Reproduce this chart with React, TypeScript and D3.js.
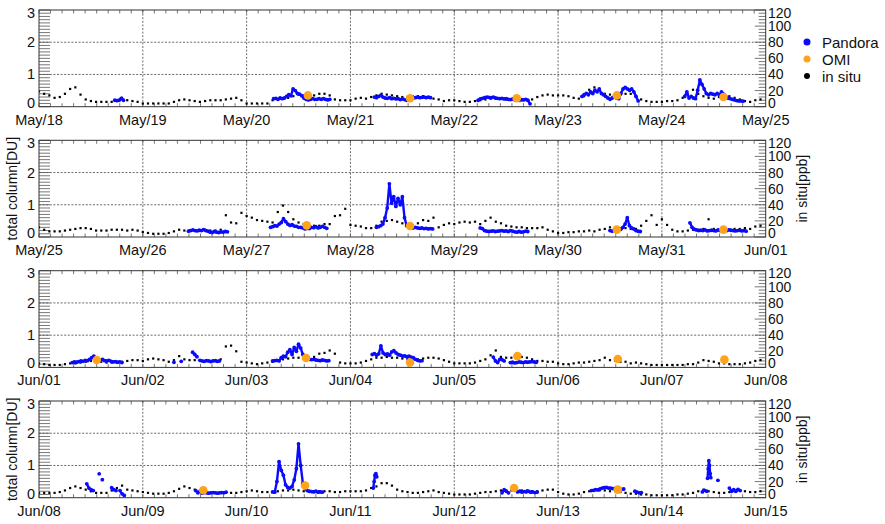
import * as d3 from "d3";

// time is counted in days from May/18 00:00
const baseTime = Date.UTC(2016, 4, 18);
const panelStartDays = [0, 7, 14, 21];
const daysPerPanel = 7;

// in situ NO2 [ppb], 20 samples per day
const inSituPerDay = 20;
const inSituWeek1 = [
  19, 16, 14, 11, 12, 16, 22, 24, 15, 9, 7, 6, 6, 6, 6, 7, 11, 8, 7, 6,
  4, 4, 4, 4, 4, 4, 6, 8, 9, 8, 7, 6, 7, 8, 8, 8, 9, 10, 11, 8,
  4, 4, 4, 4, 4, 8, 9, 10, 11, 13, 15, 14, 13, 14, 16, 16, 14, 9, 8, 8,
  8, 10, 11, 10, 12, 14, 16, 15, 14, 13, 12, 12, 13, 13, 13, 12, 10, 9, 7, 8,
  8, 7, 6, 6, 7, 8, 9, 10, 10, 10, 9, 9, 8, 8, 8, 9, 12, 14, 15, 14,
  14, 14, 13, 11, 10, 13, 21, 24, 20, 16, 15, 13, 15, 16, 16, 13, 9, 7, 6, 6,
  6, 7, 7, 8, 11, 15, 21, 16, 13, 11, 10, 12, 15, 13, 11, 9, 7, 6, 8, 9,
];
const inSituWeek2 = [
  12, 9, 7, 7, 7, 8, 9, 10, 11, 11, 10, 8, 8, 8, 9, 9, 9, 8, 9, 8,
  6, 5, 4, 4, 4, 5, 7, 9, 8, 8, 8, 8, 9, 8, 8, 9, 27, 18, 17, 30,
  26, 24, 21, 20, 19, 18, 31, 39, 31, 22, 18, 16, 15, 14, 14, 16, 16, 26, 27, 35,
  15, 14, 13, 11, 11, 14, 19, 20, 21, 19, 17, 15, 14, 17, 21, 20, 24, 12, 15, 17,
  16, 18, 19, 18, 19, 16, 20, 24, 19, 17, 14, 13, 12, 12, 11, 11, 11, 12, 9, 7,
  5, 5, 6, 6, 7, 7, 8, 7, 9, 10, 12, 12, 11, 11, 10, 10, 14, 20, 27, 15,
  22, 15, 9, 7, 7, 8, 9, 9, 10, 22, 10, 9, 9, 9, 10, 10, 11, 10, 13, 14,
];
const inSituWeek3 = [
  5, 4, 3, 3, 3, 4, 5, 5, 6, 7, 8, 8, 7, 6, 6, 6, 7, 8, 9, 9,
  8, 10, 11, 10, 9, 7, 9, 14, 10, 9, 9, 9, 8, 8, 9, 10, 26, 27, 20, 7,
  6, 5, 4, 5, 6, 7, 9, 10, 11, 12, 12, 12, 12, 13, 17, 18, 21, 17, 6, 5,
  5, 5, 6, 8, 10, 12, 12, 13, 12, 12, 11, 10, 10, 10, 11, 12, 12, 11, 9, 7,
  5, 5, 5, 5, 6, 8, 10, 15, 21, 13, 12, 12, 12, 13, 12, 10, 8, 8, 7, 7,
  5, 4, 4, 5, 6, 6, 7, 8, 9, 12, 9, 8, 7, 7, 5, 6, 5, 4, 3, 3,
  3, 3, 3, 3, 3, 4, 4, 6, 9, 8, 7, 5, 5, 4, 4, 4, 5, 6, 8, 9,
];
const inSituWeek4 = [
  6, 6, 6, 6, 7, 9, 12, 14, 12, 10, 8, 6, 6, 6, 9, 12, 15, 10, 9, 8,
  7, 6, 5, 5, 5, 6, 8, 11, 14, 12, 10, 8, 7, 6, 6, 6, 6, 6, 6, 7,
  8, 9, 8, 7, 7, 7, 8, 9, 9, 10, 9, 8, 8, 8, 8, 8, 8, 7, 7, 8,
  8, 8, 8, 9, 12, 14, 18, 18, 15, 10, 8, 7, 6, 6, 7, 8, 9, 7, 6, 5,
  4, 4, 4, 4, 5, 6, 7, 7, 8, 9, 9, 9, 9, 9, 9, 8, 8, 9, 10, 10,
  7, 5, 4, 4, 5, 7, 8, 9, 9, 9, 8, 8, 7, 6, 5, 5, 4, 4, 3, 3,
  3, 3, 3, 4, 4, 5, 6, 8, 10, 8, 7, 6, 6, 7, 8, 9, 8, 7, 7, 8,
];
const inSituWeeks = [inSituWeek1, inSituWeek2, inSituWeek3, inSituWeek4];

// Pandora total column [DU]: start day, sampling step [h], values
const pandoraSegments = [
  { start: 0.73, step: 0.5, values: [0.2, 0.19, 0.2, 0.26, 0.2] },
  { start: 2.26, step: 0.5, values: [0.25, 0.26, 0.23, 0.27, 0.25, 0.27, 0.32, 0.37, 0.34, 0.55, 0.5, 0.41, 0.39, 0.34, 0.27, 0.23, 0.21, 0.23, 0.25, 0.23, 0.23, 0.25, 0.23, 0.25, 0.23, 0.21, 0.23] },
  { start: 3.23, step: 0.5, values: [0.3, 0.28, 0.32, 0.35, 0.3, 0.27, 0.26, 0.28, 0.25, 0.26, 0.24, 0.25, 0.22, 0.24, 0.22, 0.2, 0.22, 0.25, 0.27, 0.28, 0.3, 0.28, 0.29, 0.3, 0.28, 0.3, 0.28] },
  { start: 4.23, step: 0.5, values: [0.2, 0.24, 0.26, 0.28, 0.3, 0.29, 0.28, 0.3, 0.27, 0.26, 0.25, 0.26, 0.24, 0.25, 0.23, 0.22, 0.24, 0.21, 0.22, 0.2, 0.22, 0.21, 0.23, 0.2, 0.09] },
  { start: 5.23, step: 0.5, values: [0.32, 0.37, 0.41, 0.37, 0.46, 0.41, 0.51, 0.46, 0.55, 0.41, 0.37, 0.32, 0.27, 0.23, 0.27, 0.32, 0.27, 0.25, 0.41, 0.55, 0.6, 0.55, 0.51, 0.55, 0.46, 0.32, 0.18] },
  { start: 6.22, step: 0.5, values: [0.32, 0.46, 0.27, 0.32, 0.27, 0.25, 0.51, 0.83, 0.69, 0.55, 0.41, 0.37, 0.41, 0.39, 0.37, 0.41, 0.37, 0.46, 0.39, 0.32, 0.27, 0.25, 0.23, 0.21, 0.19, 0.18, 0.18, 0.17] },
  { start: 8.44, step: 0.5, values: [0.18, 0.2, 0.22, 0.2, 0.19, 0.21, 0.2, 0.23, 0.2, 0.18, 0.15, 0.14, 0.17, 0.15, 0.14, 0.16, 0.15, 0.17, 0.16] },
  { start: 9.23, step: 0.5, values: [0.3, 0.32, 0.35, 0.34, 0.4, 0.45, 0.57, 0.48, 0.4, 0.36, 0.38, 0.34, 0.33, 0.3, 0.3, 0.28, 0.25, 0.27, 0.26, 0.3, 0.29, 0.32, 0.28, 0.3, 0.33, 0.3, 0.27] },
  { start: 10.25, step: 0.5, values: [0.3, 0.32, 0.35, 0.4, 0.6, 0.9, 1.65, 1.05, 1.25, 0.95, 1.2, 1.0, 1.25, 0.6, 0.35, 0.3, 0.28, 0.28, 0.3, 0.28, 0.27, 0.28, 0.26, 0.27, 0.25, 0.26, 0.25] },
  { start: 11.25, step: 0.5, values: [0.28, 0.26, 0.2, 0.18, 0.17, 0.18, 0.19, 0.17, 0.18, 0.19, 0.2, 0.18, 0.19, 0.17, 0.2, 0.18, 0.16, 0.15, 0.17, 0.15, 0.16, 0.18, 0.17] },
  { start: 12.5, step: 0.5, values: [0.2, 0.18, 0.22, 0.2, 0.26, 0.24, 0.3, 0.4, 0.6, 0.35, 0.28, 0.25, 0.2, 0.18, 0.17] },
  { start: 13.27, step: 0.5, values: [0.44, 0.3, 0.24, 0.22, 0.2, 0.21, 0.2, 0.22, 0.19, 0.2, 0.21, 0.2, 0.19, 0.22, 0.2, 0.21, 0.19, 0.2, 0.22, 0.21, 0.2, 0.19, 0.2, 0.21, 0.19, 0.2, 0.18] },
  { start: 14.32, step: 0.5, values: [0.15, 0.17, 0.16, 0.18, 0.2, 0.19, 0.22, 0.21, 0.25, 0.3, 0.35, 0.28, 0.24, 0.22, 0.25, 0.21, 0.2, 0.22, 0.19, 0.17, 0.18, 0.16, 0.17, 0.15] },
  { start: 15.3, step: 0.5, values: [0.16] },
  { start: 15.37, step: 0.5, values: [0.19] },
  { start: 15.48, step: 0.5, values: [0.47, 0.4, 0.33] },
  { start: 15.55, step: 0.5, values: [0.22, 0.2, 0.19, 0.21, 0.2, 0.18, 0.2, 0.21, 0.19, 0.2] },
  { start: 16.25, step: 0.5, values: [0.2, 0.21, 0.22, 0.2, 0.3, 0.35, 0.33, 0.47, 0.55, 0.4, 0.62, 0.5, 0.72, 0.6, 0.4, 0.32, 0.28, 0.25, 0.24, 0.25, 0.23, 0.22, 0.21, 0.23, 0.22, 0.2, 0.21] },
  { start: 17.21, step: 0.5, values: [0.4, 0.43, 0.38, 0.42, 0.67, 0.45, 0.4, 0.42, 0.38, 0.48, 0.52, 0.45, 0.4, 0.38, 0.35, 0.36, 0.33, 0.35, 0.32, 0.3, 0.25, 0.22, 0.2, 0.21] },
  { start: 18.376, step: 0.5, values: [0.32, 0.2, 0.15, 0.25] },
  { start: 18.46, step: 0.5, values: [0.24, 0.2] },
  { start: 18.54, step: 0.5, values: [0.15, 0.16, 0.14, 0.15, 0.17, 0.16, 0.15, 0.17, 0.16, 0.17, 0.18, 0.17, 0.16] },
  { start: 21.46, step: 0.5, values: [0.43, 0.3, 0.25, 0.22] },
  { start: 21.58, step: 0.5, values: [0.74] },
  { start: 21.61, step: 0.5, values: [0.56] },
  { start: 21.7, step: 0.5, values: [0.31, 0.25, 0.22] },
  { start: 21.78, step: 0.5, values: [0.22, 0.12, 0.07] },
  { start: 22.51, step: 0.5, values: [0.22, 0.15, 0.2, 0.14, 0.16, 0.15, 0.14, 0.15, 0.16, 0.15, 0.14, 0.15, 0.16, 0.15, 0.17] },
  { start: 23.25, step: 0.5, values: [0.18, 0.17, 0.5, 1.12, 0.85, 0.7, 0.4, 0.32, 0.3, 0.35, 0.55, 0.9, 1.67, 1.0, 0.45, 0.3, 0.22, 0.2, 0.19, 0.18, 0.2, 0.17, 0.18, 0.17] },
  { start: 24.22, step: 0.2, values: [0.3, 0.5, 0.7, 0.75, 0.65] },
  { start: 25.46, step: 0.5, values: [0.15, 0.25, 0.2, 0.15] },
  { start: 25.61, step: 0.5, values: [0.18, 0.2, 0.17, 0.19, 0.18, 0.2, 0.17, 0.18, 0.16, 0.17] },
  { start: 26.32, step: 0.5, values: [0.22, 0.23, 0.25, 0.24, 0.27, 0.3, 0.31, 0.32, 0.3, 0.3, 0.28, 0.29, 0.27, 0.28, 0.26, 0.27] },
  { start: 26.74, step: 0.5, values: [0.2, 0.17, 0.15, 0.16] },
  { start: 27.39, step: 0.5, values: [0.18, 0.23, 0.2] },
  { start: 27.44, step: 0.15, values: [0.6, 0.9, 1.15, 1.0, 0.75, 0.62] },
  { start: 27.54, step: 0.5, values: [0.54] },
  { start: 27.65, step: 0.5, values: [0.3, 0.2, 0.25, 0.2, 0.26, 0.22] },
];

// OMI overpass total column [DU]
const omiDays = [2.59, 3.574, 4.602, 5.566, 6.593, 9.579, 10.574, 12.566, 13.593, 14.556, 16.572, 17.574, 18.608, 19.575, 20.602, 22.583, 23.563, 25.576, 26.575];
const omiValues = [0.35, 0.26, 0.26, 0.35, 0.3, 0.36, 0.34, 0.23, 0.23, 0.23, 0.29, 0.15, 0.35, 0.26, 0.24, 0.23, 0.38, 0.3, 0.25];

const leftTicks = [0, 1, 2, 3];
const rightTicks = [0, 20, 40, 60, 80, 100, 120];
const legendLabels = ["Pandora", "OMI", "in situ"];
const legendColors = ["#0a0aff", "#ffa31a", "#000000"];

const FONT = "'Liberation Sans', Arial, Helvetica, sans-serif";
const LEFT = 39;
const RIGHT = 765.7;
const PANEL_TOPS = [10, 140.3, 270.7, 401];
const PANEL_H = 96.7;
const BLUE = "#0a0aff";
const ORANGE = "#ffa31a";
const minorPerDay = 9;

const toDate = (d: number) => new Date(baseTime + d * 864e5);
const fmt = d3.utcFormat("%b/%d");

function Panel({ p }: { p: number }) {
  const top = PANEL_TOPS[p];
  const bottom = top + PANEL_H;
  const d0 = panelStartDays[p];
  const d1 = d0 + daysPerPanel;
  const x = d3.scaleUtc().domain([toDate(d0), toDate(d1)]).range([LEFT, RIGHT]);
  const y = d3.scaleLinear().domain([0, 3]).range([bottom, top]);
  const yR = d3.scaleLinear().domain([0, 120]).range([bottom, top]);
  const dayTicks = x.ticks(d3.utcDay.every(1)!);
  const minorTicks = d3.range(d0 * minorPerDay, d1 * minorPerDay).map((k) => toDate(k / minorPerDay));
  const clipId = `clip${p}`;
  const labelY = (v: number) => Math.min(Math.max(v, top + 2.5), bottom - 4);

  const inSitu = inSituWeeks[p].map((v, i) => ({ t: d0 + i / inSituPerDay, v }));
  const segs = pandoraSegments
    .filter((s) => s.start >= d0 && s.start < d1)
    .map((s) => s.values.map((v, i) => ({ t: s.start + (i * s.step) / 24, v })));
  const omi = omiDays
    .map((t, i) => ({ t, v: omiValues[i] }))
    .filter((o) => o.t >= d0 && o.t < d1);
  const line = d3
    .line<{ t: number; v: number }>()
    .x((d) => x(toDate(d.t)))
    .y((d) => y(d.v));

  const midY = (top + bottom) / 2;
  const showTitles = p === 1 || p === 3;

  return (
    <g>
      <defs>
        <clipPath id={clipId}>
          <rect x={LEFT} y={top} width={RIGHT - LEFT} height={PANEL_H} />
        </clipPath>
      </defs>
      {/* grid */}
      {dayTicks.slice(1, -1).map((d, i) => (
        <line key={"gx" + i} x1={x(d)} x2={x(d)} y1={top} y2={bottom} stroke="#444" strokeWidth={0.8} strokeDasharray="2,1.6" />
      ))}
      {[1, 2].map((v) => (
        <line key={"gy" + v} x1={LEFT} x2={RIGHT} y1={y(v)} y2={y(v)} stroke="#444" strokeWidth={0.8} strokeDasharray="2,1.6" />
      ))}
      {/* minor ticks */}
      {d3.range(0, 3.001, 0.1).map((v, i) => (
        <line key={"lt" + i} x1={LEFT} x2={LEFT + 11} y1={y(v)} y2={y(v)} stroke="#555" strokeWidth={0.8} />
      ))}
      {d3.range(0, 120.1, 4).map((v, i) => (
        <line key={"rt" + i} x1={RIGHT} x2={RIGHT - (i % 5 === 0 ? 11 : 7)} y1={yR(v)} y2={yR(v)} stroke="#555" strokeWidth={0.8} />
      ))}
      {minorTicks.map((d, i) => (
        <g key={"ht" + i}>
          <line x1={x(d)} x2={x(d)} y1={top} y2={top + 3.5} stroke="#555" strokeWidth={0.8} />
          <line x1={x(d)} x2={x(d)} y1={bottom} y2={bottom - 3.5} stroke="#555" strokeWidth={0.8} />
        </g>
      ))}
      {/* data */}
      <g clipPath={`url(#${clipId})`}>
        {inSitu.map((d, i) => (
          <rect key={"is" + i} x={x(toDate(d.t)) - 1.1} y={yR(d.v) - 1.1} width={2.2} height={2.2} fill="#000" />
        ))}
        {segs.map((s, i) => (
          <g key={"pd" + i}>
            {s.length > 1 && <path d={line(s) ?? ""} fill="none" stroke={BLUE} strokeWidth={2.4} strokeLinejoin="round" />}
            {s.map((d, j) => (
              <circle key={j} cx={x(toDate(d.t))} cy={y(d.v)} r={1.9} fill={BLUE} />
            ))}
          </g>
        ))}
        {omi.map((d, i) => (
          <circle key={"om" + i} cx={x(toDate(d.t))} cy={y(d.v)} r={4.3} fill={ORANGE} />
        ))}
      </g>
      {/* frame */}
      <rect x={LEFT} y={top} width={RIGHT - LEFT} height={PANEL_H} fill="none" stroke="#333" strokeWidth={1} />
      {/* labels */}
      {leftTicks.map((v) => (
        <text key={"ll" + v} x={35} y={labelY(y(v))} textAnchor="end" dominantBaseline="central" fontSize={14.5} fontFamily={FONT} fill="#111">
          {v}
        </text>
      ))}
      {rightTicks.map((v) => (
        <text key={"rl" + v} x={768} y={labelY(yR(v))} textAnchor="start" dominantBaseline="central" fontSize={14} fontFamily={FONT} fill="#111">
          {v}
        </text>
      ))}
      {dayTicks.map((d, i) => (
        <text key={"xl" + i} x={x(d)} y={bottom + 13} textAnchor="middle" dominantBaseline="central" fontSize={14.5} fontFamily={FONT} fill="#111">
          {fmt(d)}
        </text>
      ))}
      {showTitles && (
        <>
          <text transform={`translate(12,${midY}) rotate(-90)`} textAnchor="middle" dominantBaseline="central" fontSize={14} fontFamily={FONT} fill="#111">
            total column[DU]
          </text>
          <text transform={`translate(802,${midY}) rotate(-90)`} textAnchor="middle" dominantBaseline="central" fontSize={14} fontFamily={FONT} fill="#111">
            in situ[ppb]
          </text>
        </>
      )}
    </g>
  );
}

export default function App() {
  return (
    <svg width={885} height={524} style={{ position: "absolute", left: 0, top: 0, background: "#fff" }}>
      <rect width={885} height={524} fill="#fff" />
      {panelStartDays.map((_, p) => (
        <Panel key={p} p={p} />
      ))}
      {legendLabels.map((l, i) => (
        <g key={l}>
          <circle cx={807} cy={42 + i * 17} r={i === 2 ? 3 : 3.5} fill={legendColors[i]} />
          <text x={822} y={42 + i * 17} dominantBaseline="central" fontSize={15} fontFamily={FONT} fill="#111">
            {l}
          </text>
        </g>
      ))}
    </svg>
  );
}
